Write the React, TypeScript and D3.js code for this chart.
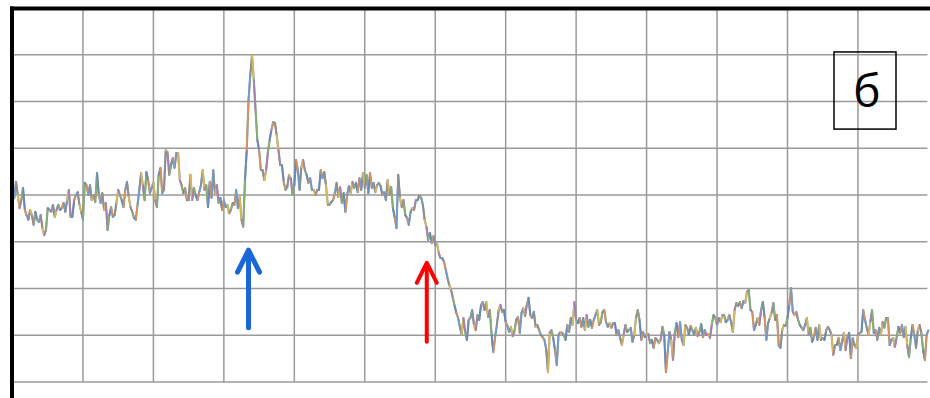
import React from "react";
import * as d3 from "d3";

// Signal samples, one every 0.25 time units (grid step = 10 units on both axes)
const SAMPLE_STEP = 0.25;
const signal: number[] = [
  42.1, 39.4, 42.8, 40.0, 37.2, 38.9, 41.5, 36.8, 35.7, 34.7, 36.8, 35.7, 33.6, 36.4, 34.7, 34.2, 35.7, 32.9, 31.4, 32.5,
  37.2, 36.8, 36.4, 37.9, 35.3, 36.8, 37.9, 36.8, 37.2, 38.3, 36.4, 38.9, 41.1, 35.3, 35.3, 38.9, 40.0, 40.6, 37.9, 36.4,
  34.7, 42.6, 42.1, 40.0, 42.1, 38.9, 40.0, 38.5, 44.7, 40.0, 38.3, 40.4, 36.8, 38.3, 32.5, 35.7, 37.4, 35.3, 35.7, 38.3,
  41.1, 40.0, 38.9, 37.4, 41.1, 42.8, 39.6, 37.4, 36.4, 35.1, 34.7, 37.9, 41.1, 44.7, 42.1, 38.9, 44.9, 43.2, 40.4, 41.5,
  42.6, 38.9, 37.4, 44.3, 45.8, 40.4, 41.1, 49.6, 49.2, 44.3, 46.4, 47.9, 45.8, 49.0, 49.0, 43.2, 42.1, 40.4, 41.5, 38.9,
  38.9, 44.3, 38.9, 41.5, 40.0, 38.9, 40.6, 42.1, 45.3, 41.1, 42.1, 37.4, 42.8, 39.4, 45.3, 40.0, 42.1, 38.3, 39.4, 36.8,
  38.9, 37.4, 37.9, 36.1, 36.8, 38.3, 37.9, 41.1, 37.2, 39.6, 34.7, 33.2, 43.2, 49.6, 60.3, 65.7, 69.9, 64.6, 58.2, 51.8,
  49.6, 45.3, 45.3, 43.2, 45.3, 49.2, 51.8, 53.9, 55.6, 55.4, 52.8, 49.6, 46.4, 46.4, 42.8, 41.1, 41.7, 44.3, 43.6, 40.0,
  42.1, 47.5, 45.3, 41.1, 46.0, 47.5, 45.3, 44.3, 42.6, 43.6, 41.1, 41.1, 40.0, 41.1, 41.1, 45.3, 43.6, 44.9, 42.1, 37.9,
  37.9, 38.5, 38.9, 40.4, 42.6, 39.6, 41.7, 38.3, 40.4, 36.4, 40.0, 41.9, 40.4, 42.8, 41.5, 42.6, 40.6, 43.6, 41.1, 44.7,
  41.5, 44.3, 40.4, 44.7, 41.5, 42.6, 40.6, 42.1, 42.6, 41.9, 40.0, 40.6, 38.9, 43.2, 40.0, 41.7, 37.2, 35.1, 32.9, 44.3,
  39.4, 37.4, 38.9, 35.7, 35.1, 33.6, 36.4, 37.2, 36.8, 38.9, 38.9, 40.0, 39.4, 37.9, 34.7, 33.2, 30.4, 31.9, 29.7, 31.2,
  29.3, 29.7, 27.6, 26.5, 26.5, 25.7, 24.0, 22.2, 20.7, 19.7, 18.0, 16.3, 14.8, 13.7, 11.8, 10.1, 13.7, 10.7, 9.0, 13.3,
  13.7, 15.4, 12.2, 11.1, 14.3, 13.3, 16.5, 17.1, 15.4, 17.1, 13.9, 15.4, 10.1, 6.4, 9.6, 12.2, 15.4, 16.5, 15.0, 15.4,
  12.8, 12.0, 10.7, 11.8, 9.8, 10.9, 13.3, 13.9, 10.5, 14.8, 15.8, 14.1, 16.5, 18.0, 14.3, 13.7, 15.0, 11.8, 12.2, 11.1,
  10.1, 9.6, 9.0, 7.1, 2.1, 10.5, 11.1, 9.4, 6.8, 3.6, 10.1, 10.7, 10.5, 10.1, 9.0, 12.2, 10.7, 13.7, 12.2, 17.1,
  13.3, 12.6, 13.7, 11.8, 13.7, 11.1, 14.3, 11.8, 13.3, 11.6, 13.3, 14.3, 15.4, 12.2, 12.8, 15.0, 15.4, 12.8, 11.8, 12.6,
  11.6, 12.6, 12.6, 10.1, 11.1, 9.4, 7.9, 10.1, 12.2, 10.7, 11.1, 11.6, 8.6, 10.1, 13.7, 15.4, 13.3, 9.0, 10.7, 9.6,
  10.1, 10.3, 8.3, 9.0, 7.3, 9.4, 9.0, 8.3, 9.0, 11.8, 10.1, 2.1, 6.4, 10.7, 9.0, 4.7, 10.5, 12.6, 9.6, 12.8,
  9.0, 7.9, 12.2, 11.6, 10.1, 12.0, 11.1, 10.1, 11.6, 9.8, 10.7, 12.4, 9.6, 11.1, 10.1, 10.3, 9.4, 12.2, 14.3, 13.7,
  12.2, 13.7, 12.8, 14.3, 14.3, 12.8, 13.3, 14.3, 12.8, 10.7, 15.4, 16.9, 16.3, 17.1, 15.8, 17.3, 16.9, 19.3, 19.7, 15.4,
  15.0, 11.1, 12.2, 13.7, 12.2, 15.4, 17.1, 13.9, 9.0, 12.6, 13.7, 14.8, 16.9, 13.3, 14.3, 7.9, 7.3, 11.1, 12.2, 12.0,
  13.7, 16.5, 20.1, 15.0, 14.3, 15.0, 13.3, 12.2, 11.6, 11.1, 12.2, 13.7, 10.1, 11.6, 8.6, 9.6, 11.6, 9.0, 12.2, 9.0,
  9.4, 9.0, 11.1, 11.8, 11.1, 10.1, 5.8, 7.9, 7.9, 9.4, 6.8, 8.6, 10.5, 6.8, 9.6, 10.5, 5.1, 9.4, 7.9, 7.3,
  10.1, 10.5, 10.7, 15.4, 13.3, 11.6, 10.1, 12.8, 15.4, 10.5, 11.1, 9.0, 11.6, 10.1, 12.8, 11.6, 13.7, 13.7, 7.9, 9.0,
  9.4, 7.5, 9.6, 11.8, 10.5, 12.2, 9.6, 11.8, 7.9, 5.3, 9.4, 12.2, 10.1, 7.3, 11.1, 12.2, 10.5, 6.8, 4.7, 10.1,
  11.1,
];

// Overlaid trace colours, cycled along the line
const traceColors = ["#dc935a", "#6f9dd2", "#8f8f8f", "#e1bd55", "#a97fb2", "#82b36c", "#6688c0"];

// Axis extents and grid steps
const xDomain: [number, number] = [0, 130];
const yDomain: [number, number] = [0, 80];
const gridStep = 10;

// Event markers: [x, yTip, yTail]
const blueMarker = [33.5, 28.2, 11.6];
const redMarker = [58.8, 25.5, 8.6];

// Panel label box: [x0, x1, yTop, yBottom]
const labelBox = [116.6, 125.4, 70.6, 54.1];
const panelLabel = "б";

const W = 930;
const H = 398;

function Arrow({ x, y0, y1, color, width, head }: { x: number; y0: number; y1: number; color: string; width: number; head: [number, number] }) {
  return (
    <g stroke={color} strokeWidth={width} fill="none" strokeLinecap="round" strokeLinejoin="round">
      <line x1={x} y1={y1} x2={x} y2={y0 + 2} />
      <polyline points={`${x - head[0]},${y0 + head[1]} ${x},${y0} ${x + head[0]},${y0 + head[1]}`} />
    </g>
  );
}

export default function App() {
  const x = d3.scaleLinear().domain(xDomain).range([12.5, 928.4]);
  const y = d3.scaleLinear().domain(yDomain).range([382, 8]);

  const pts: [number, number][] = signal.map((v, i) => [x(i * SAMPLE_STEP), y(v)]);
  const line = d3.line<[number, number]>();

  const xTicks = d3.range(xDomain[0] + gridStep, xDomain[1], gridStep);
  const yTicks = d3.range(yDomain[0], yDomain[1] + 1, gridStep);

  return (
    <svg width={W} height={H} style={{ position: "absolute", left: 0, top: 0, background: "#fff" }}>
      <rect x={0} y={0} width={W} height={H} fill="#fff" />
      {/* grid */}
      <g stroke="#9a9a9a" strokeWidth={1.5}>
        {xTicks.map((t) => (
          <line key={"v" + t} x1={x(t)} x2={x(t)} y1={y(yDomain[1])} y2={y(0)} />
        ))}
        {yTicks.map((t) => (
          <line key={"h" + t} x1={x(0)} x2={x(xDomain[1]) - 1} y1={y(t)} y2={y(t)} />
        ))}
      </g>

      {/* signal traces */}
      <path d={line(pts) || ""} fill="none" stroke="#8d929b" strokeWidth={2.1} strokeLinejoin="round" />
      <g strokeWidth={1.8} strokeLinecap="round" opacity={0.9}>
        {pts.slice(1).map((p, i) => (
          <line key={i} x1={pts[i][0]} y1={pts[i][1]} x2={p[0]} y2={p[1]} stroke={traceColors[i % traceColors.length]} />
        ))}
      </g>

      {/* frame */}
      <line x1={12} x2={12} y1={6.5} y2={H} stroke="#000" strokeWidth={4} />
      <line x1={10} x2={W} y1={8.5} y2={8.5} stroke="#000" strokeWidth={4} />

      {/* markers */}
      <Arrow x={x(blueMarker[0])} y0={y(blueMarker[1])} y1={y(blueMarker[2])} color="#1b66d6" width={5} head={[11, 22]} />
      <Arrow x={x(redMarker[0])} y0={y(redMarker[1])} y1={y(redMarker[2])} color="#ff0000" width={4} head={[10, 20]} />

      {/* panel label */}
      <rect
        x={x(labelBox[0])}
        y={y(labelBox[2])}
        width={x(labelBox[1]) - x(labelBox[0])}
        height={y(labelBox[3]) - y(labelBox[2])}
        fill="none"
        stroke="#000"
        strokeWidth={1.5}
      />
      <text
        x={(x(labelBox[0]) + x(labelBox[1])) / 2 + 2}
        y={107}
        textAnchor="middle"
        fontFamily="'Open Sans', 'Liberation Sans', sans-serif"
        fontSize={46}
        fill="#000"
      >
        {panelLabel}
      </text>
    </svg>
  );
}
